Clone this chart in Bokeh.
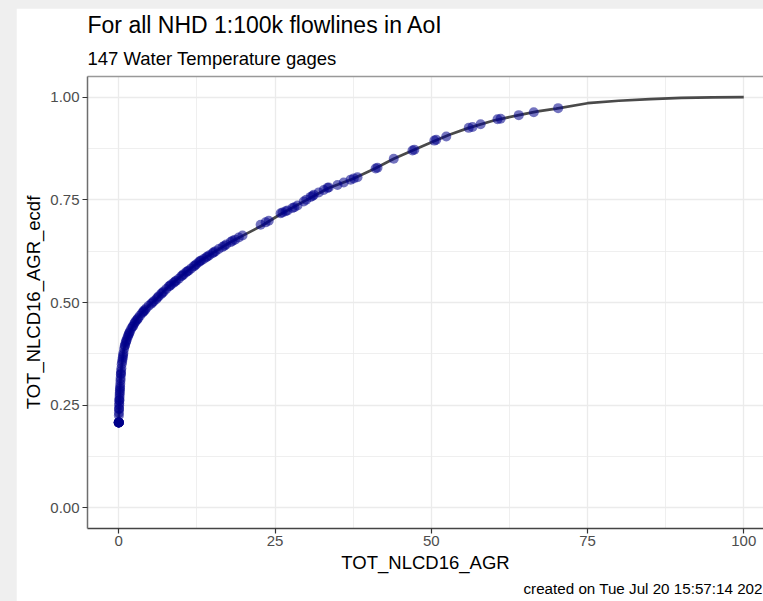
from bokeh.plotting import figure
from bokeh.models import Range1d, FixedTicker, LinearAxis, Title
from bokeh.layouts import column
from bokeh.embed import file_html
from bokeh.resources import INLINE

# ---- data ----
title_text = "For all NHD 1:100k flowlines in AoI"
subtitle_text = "147 Water Temperature gages"
caption_text = "created on Tue Jul 20 15:57:14 2021"
x_label = "TOT_NLCD16_AGR"
y_label = "TOT_NLCD16_AGR_ecdf"

x_ticks = [0, 25, 50, 75, 100]
x_minor = [-12.5, 12.5, 37.5, 62.5, 87.5]
y_ticks = [0.0, 0.25, 0.5, 0.75, 1.0]
y_tick_labels = ["0.00", "0.25", "0.50", "0.75", "1.00"]
y_minor = [0.125, 0.375, 0.625, 0.875]

# ECDF of all NHD flowlines (line)
line_x = [0, 0.05, 0.15, 0.3, 0.5, 0.8, 1.3, 2, 2.7, 3.5, 4.8, 6, 7.5, 9, 10.7,
          13, 15.5, 18, 20, 23, 26, 30, 33.5, 37.5, 41, 44, 47, 50.5, 53, 56,
          60, 64, 67, 70, 75, 80, 85, 90, 95, 100]
line_y = [0.208, 0.24, 0.28, 0.32, 0.35, 0.385, 0.41, 0.435, 0.455, 0.471, 0.492,
          0.508, 0.532, 0.552, 0.573, 0.601, 0.625, 0.648, 0.664, 0.688, 0.716,
          0.749, 0.778, 0.801, 0.826, 0.850, 0.870, 0.893, 0.909, 0.925, 0.943,
          0.956, 0.965, 0.972, 0.985, 0.991, 0.995, 0.998, 0.999, 1.0]

# 147 water temperature gages (points)
gage_x = [0, 0, 0, 0, 0, 0, 0, 0, 0.02, 0.03, 0.05, 0.05, 0.07, 0.08, 0.1, 0.1,
          0.12, 0.14, 0.16, 0.18, 0.2, 0.22, 0.25, 0.28, 0.3, 0.34, 0.35, 0.38,
          0.42, 0.47,
          0.55, 0.6, 0.65, 0.7, 0.75, 0.85, 0.95, 1.0, 1.1, 1.2, 1.25, 1.4, 1.5,
          1.6, 1.7, 1.8, 2.0, 2.2, 2.3, 2.5, 2.6, 2.8, 3.0, 3.1, 3.4, 3.7, 3.9,
          4.0, 4.2, 4.4, 4.8,
          5.2, 5.4, 5.6, 6.0, 6.2, 6.4, 6.8, 7.0, 7.2, 7.6, 8.0, 8.2, 8.4, 8.8,
          9.0, 9.2, 9.6, 10.0, 10.2, 10.4, 10.8, 11.0, 11.2, 11.6, 12.0, 12.2,
          12.4, 12.8, 13.0, 13.2, 13.6, 14.0, 14.2, 14.5, 15.0, 15.2, 15.5, 16.0,
          16.6, 16.9, 17.2, 17.9, 18.2, 18.6, 19.2, 19.8,
          22.7, 23.5, 24.0, 25.9, 26.2, 26.7, 27.0, 27.8, 28.1, 28.6, 29.6, 30.0,
          30.7, 31.0, 31.2, 32.0, 32.8, 33.4, 33.6, 35.0, 36.0, 37.1, 37.6, 38.2,
          41.1, 41.4, 44.0, 47.0, 47.3, 50.5, 50.8, 52.4, 56.0, 56.6, 57.9, 60.6,
          61.1, 64.0, 66.4, 70.3]
gage_y = [0.208, 0.208, 0.208, 0.208, 0.208, 0.208, 0.208, 0.208, 0.225, 0.232,
          0.24, 0.242, 0.25, 0.255, 0.262, 0.262, 0.268, 0.275, 0.28, 0.285, 0.29,
          0.295, 0.302, 0.31, 0.316, 0.325, 0.327, 0.333, 0.34, 0.35,
          0.356, 0.362, 0.367, 0.372, 0.377, 0.387, 0.394, 0.396, 0.402, 0.406,
          0.409, 0.415, 0.419, 0.423, 0.426, 0.430, 0.436, 0.441, 0.443, 0.449,
          0.452, 0.456, 0.459, 0.462, 0.468, 0.474, 0.477, 0.479, 0.482, 0.486,
          0.492,
          0.497, 0.500, 0.503, 0.508, 0.512, 0.515, 0.521, 0.524, 0.527, 0.533,
          0.539, 0.541, 0.544, 0.548, 0.551, 0.553, 0.558, 0.564, 0.566, 0.569,
          0.574, 0.576, 0.578, 0.583, 0.588, 0.590, 0.593, 0.598, 0.601, 0.602,
          0.606, 0.610, 0.612, 0.615, 0.620, 0.622, 0.625, 0.630, 0.635, 0.638,
          0.641, 0.647, 0.650, 0.653, 0.658, 0.663,
          0.689, 0.695, 0.699, 0.717, 0.719, 0.722, 0.724, 0.730, 0.732, 0.736,
          0.746, 0.750, 0.757, 0.759, 0.762, 0.768, 0.774, 0.779, 0.780, 0.786,
          0.792, 0.799, 0.802, 0.805, 0.826, 0.828, 0.850, 0.870, 0.872, 0.894,
          0.896, 0.904, 0.925, 0.927, 0.934, 0.946, 0.947, 0.956, 0.963, 0.973]

FONT = "Liberation Sans"

p = figure(width=747, height=593, output_backend="svg", toolbar_location=None,
           title=None,
           x_range=Range1d(-5, 103.16), y_range=Range1d(-0.05, 1.05),
           min_border_left=71, min_border_right=0, min_border_top=68,
           min_border_bottom=73, background_fill_color="white",
           border_fill_color="white", outline_line_color=None,
           x_axis_label=x_label, y_axis_label=y_label)
p.margin = (8, 0, 0, 16)

xt = FixedTicker(ticks=x_ticks, minor_ticks=x_minor)
yt = FixedTicker(ticks=y_ticks, minor_ticks=y_minor)
p.xaxis.ticker = xt
p.yaxis.ticker = yt
p.xgrid.ticker = xt
p.ygrid.ticker = yt
p.yaxis.major_label_overrides = {t: s for t, s in zip(y_ticks, y_tick_labels)}

for g in (p.xgrid, p.ygrid):
    g.grid_line_color = "#ebebeb"
    g.grid_line_width = 1.3
    g.minor_grid_line_color = "#ebebeb"
    g.minor_grid_line_width = 0.8

for ax in (p.xaxis, p.yaxis):
    ax.major_tick_out = 5
    ax.major_tick_in = 0
    ax.major_tick_line_color = "#333333"
    ax.major_tick_line_width = 1.2
    ax.minor_tick_line_color = None
    ax.major_label_text_font = FONT
    ax.major_label_text_font_size = "15px"
    ax.major_label_text_color = "#4d4d4d"
    ax.axis_label_text_font = FONT
    ax.axis_label_text_font_size = "18.5px"
    ax.axis_label_text_font_style = "normal"
    ax.axis_label_text_color = "black"
    ax.axis_line_width = 1.5

p.xaxis.axis_line_color = "#444444"
p.yaxis.axis_line_color = "#6e6e6e"
p.xaxis.major_label_standoff = 2
p.yaxis.major_label_standoff = 3
p.xaxis.axis_label_standoff = 3
p.yaxis.axis_label_standoff = 3

top_axis = LinearAxis(ticker=FixedTicker(ticks=[]), axis_line_color="#999999",
                      axis_line_width=1.5, major_tick_out=0, major_tick_in=0,
                      minor_tick_out=0, minor_tick_in=0,
                      major_label_standoff=0, axis_label_standoff=0,
                      major_label_text_font_size="0px")
p.add_layout(top_axis, "above")

sub = Title(text=subtitle_text, align="left", offset=0, standoff=15,
            text_font=FONT, text_font_size="18.5px", text_font_style="normal",
            text_color="black")
p.add_layout(sub, "above")
main = Title(text=title_text, align="left", offset=0, standoff=1,
             text_font=FONT, text_font_size="23px", text_font_style="normal",
             text_color="black")
p.add_layout(main, "above")

cap = Title(text=caption_text, align="left", offset=436, standoff=4,
            text_font=FONT, text_font_size="15.2px", text_font_style="normal",
            text_color="black")
p.add_layout(cap, "below")

p.line(line_x, line_y, line_color="#4a4a4a", line_width=2.7)
p.scatter(gage_x, gage_y, size=10, fill_color="#00008B", line_color=None,
          fill_alpha=0.55)

root = column(p, width=763, height=601, styles={"background-color": "#efefef"})

open("out.html", "w").write(file_html(root, INLINE))
